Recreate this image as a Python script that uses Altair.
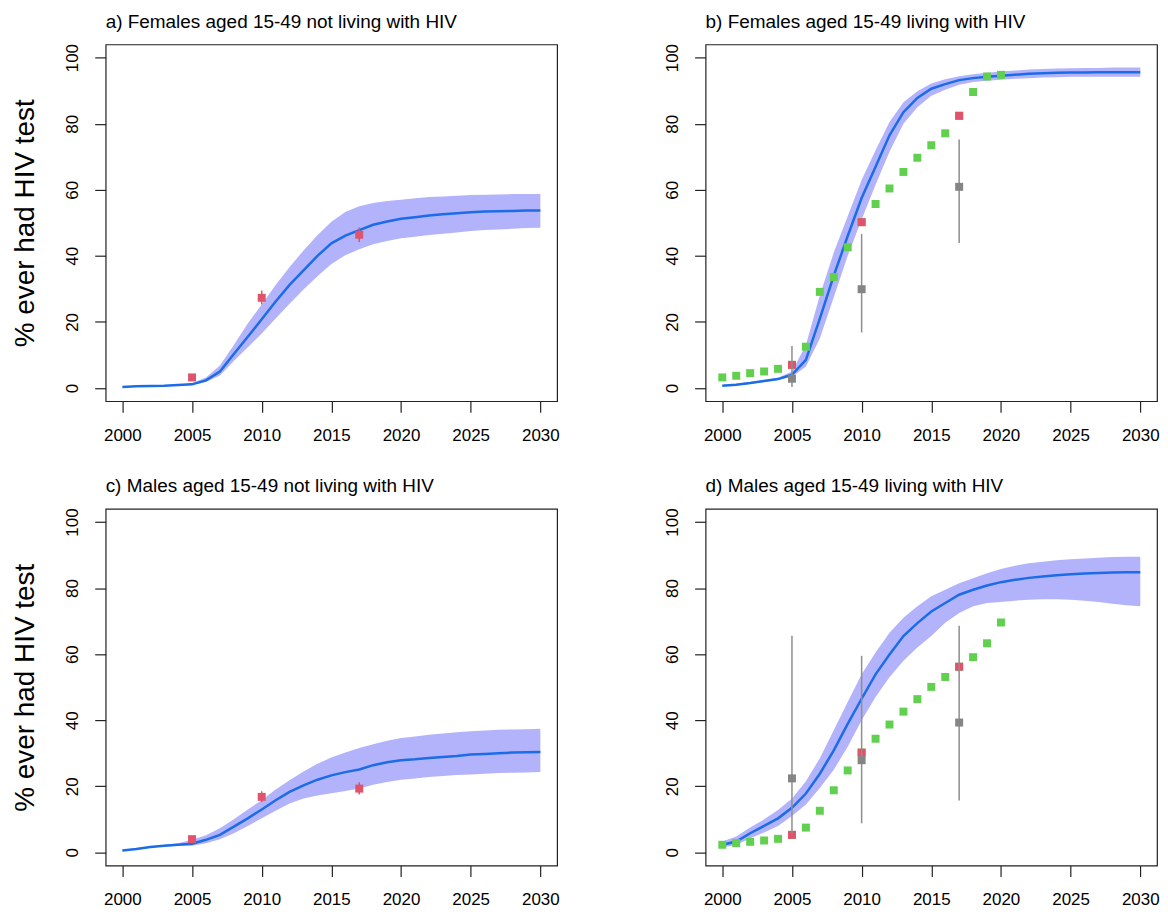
import altair as alt
import pandas as pd

FONT = "Liberation Sans"
BLUE = "#1c6ce8"
BAND = "#b3b3fb"
RED = "#df536b"
GREEN = "#61d04f"
GREY = "#858585"
GREY_LINE = "#8e8e8e"

YEARS = list(range(2000, 2031))
SURVEY_YEARS = [2005, 2010, 2017]
PROG_YEARS = list(range(2000, 2021))

# a) Females not living with HIV
A_MID = [0.3, 0.5, 0.6, 0.7, 0.9, 1.1, 2.3, 5.0, 10.3, 15.5, 20.8, 26.2, 31.2, 35.6, 40.0, 43.8,
         46.1, 47.8, 49.4, 50.4, 51.2, 51.7, 52.2, 52.6, 52.9, 53.2, 53.4, 53.5, 53.6, 53.7, 53.7]
A_UP = [0.4, 0.6, 0.7, 0.8, 1.0, 1.5, 3.2, 6.8, 13.0, 19.5, 25.3, 31.2, 36.6, 41.6, 46.2, 50.3,
        53.3, 55.0, 56.0, 56.6, 57.0, 57.4, 57.8, 58.0, 58.2, 58.4, 58.5, 58.6, 58.7, 58.7, 58.7]
A_LO = [0.2, 0.4, 0.5, 0.6, 0.8, 0.9, 1.8, 3.8, 8.2, 12.3, 16.5, 21.0, 25.5, 29.8, 33.8, 37.5,
        40.2, 42.0, 43.5, 44.5, 45.3, 45.8, 46.3, 46.7, 47.1, 47.5, 47.8, 48.0, 48.2, 48.4, 48.5]
A_RED = [3.2, 27.3, 46.4]
A_RED_LO = [2.6, 25.3, 44.2]
A_RED_HI = [3.9, 29.5, 48.6]

# b) Females living with HIV
B_MID = [0.7, 1.0, 1.5, 2.1, 2.7, 4.0, 8.5, 21.0, 34.0, 46.0, 57.5, 67.0, 76.5, 83.5, 87.8, 90.6,
         92.0, 93.2, 93.8, 94.2, 94.5, 94.8, 95.1, 95.3, 95.4, 95.5, 95.5, 95.6, 95.6, 95.6, 95.6]
B_UP = [1.0, 1.3, 1.8, 2.4, 3.1, 5.0, 13.0, 28.0, 41.0, 52.0, 63.0, 72.0, 80.5, 86.5, 89.8, 92.2,
        93.5, 94.4, 95.0, 95.4, 95.8, 96.1, 96.4, 96.6, 96.7, 96.8, 96.9, 96.9, 97.0, 97.0, 97.0]
B_LO = [0.5, 0.8, 1.2, 1.8, 2.4, 3.3, 6.5, 15.0, 27.5, 40.0, 51.0, 61.5, 71.5, 80.0, 85.0, 88.5,
        90.3, 91.8, 92.6, 93.0, 93.3, 93.6, 93.8, 94.0, 94.1, 94.2, 94.2, 94.2, 94.2, 94.2, 94.2]
B_GREEN = [3.2, 3.7, 4.5, 5.0, 5.8, 7.0, 12.5, 29.1, 33.6, 42.6, 50.2, 55.7, 60.4, 65.4, 69.7,
           73.5, 77.1, 82.4, 89.6, 94.3, 94.8]
B_RED = [7.0, 50.2, 82.4]
B_GREY = [2.8, 29.9, 60.9]
B_GREY_LO = [0.3, 16.8, 43.9]
B_GREY_HI = [12.7, 46.6, 75.2]

# c) Males not living with HIV
C_MID = [0.6, 1.0, 1.6, 2.0, 2.3, 2.6, 3.8, 5.3, 7.8, 10.3, 13.0, 15.8, 18.3, 20.3, 22.0, 23.3,
         24.3, 25.1, 26.4, 27.3, 27.9, 28.2, 28.6, 28.9, 29.2, 29.6, 29.8, 30.0, 30.2, 30.3, 30.4]
C_UP = [0.8, 1.2, 1.8, 2.3, 2.8, 3.8, 5.2, 7.3, 10.0, 13.0, 15.8, 19.0, 21.8, 24.5, 26.8, 28.7,
        30.2, 31.6, 32.7, 33.8, 34.6, 35.1, 35.6, 36.0, 36.4, 36.7, 36.9, 37.1, 37.2, 37.3, 37.4]
C_LO = [0.5, 0.8, 1.4, 1.8, 2.0, 2.0, 2.8, 4.0, 5.8, 8.0, 10.3, 12.6, 14.8, 16.3, 17.2, 17.9,
        18.6, 19.3, 20.5, 21.3, 22.0, 22.4, 22.8, 23.1, 23.4, 23.6, 23.8, 24.0, 24.1, 24.2, 24.3]
C_RED = [4.0, 16.8, 19.3]
C_RED_LO = [3.3, 15.2, 17.5]
C_RED_HI = [4.8, 18.5, 21.2]

# d) Males living with HIV
D_MID = [2.3, 3.3, 5.8, 8.0, 10.3, 13.5, 17.8, 23.8, 30.9, 38.9, 46.5, 53.9, 59.9, 65.5, 69.4, 72.9,
         75.5, 78.0, 79.5, 80.8, 81.8, 82.5, 83.1, 83.5, 83.9, 84.2, 84.4, 84.6, 84.7, 84.8, 84.8]
D_UP = [3.3, 4.8, 7.5, 10.0, 12.8, 16.3, 21.5, 28.5, 37.0, 45.5, 53.9, 60.5, 66.5, 71.0, 74.5, 77.5,
        79.5, 81.5, 83.0, 84.5, 85.8, 86.8, 87.5, 88.0, 88.4, 88.7, 89.0, 89.2, 89.4, 89.5, 89.5]
D_LO = [1.5, 2.2, 4.3, 6.0, 8.0, 11.0, 14.5, 19.5, 25.0, 32.0, 40.0, 47.0, 53.0, 58.0, 62.0, 65.5,
        69.5, 72.5, 74.5, 75.5, 75.8, 76.2, 76.5, 76.6, 76.6, 76.5, 76.2, 75.8, 75.3, 74.8, 74.5]
D_GREEN = [2.3, 2.8, 3.2, 3.6, 4.1, 5.3, 7.5, 12.6, 18.8, 24.8, 30.2, 34.4, 38.7, 42.6, 46.4,
           50.1, 53.1, 56.2, 59.1, 63.3, 69.6]
D_RED = [5.3, 30.2, 56.2]
D_GREY = [22.4, 27.9, 39.3]
D_GREY_LO = [5.5, 8.8, 15.7]
D_GREY_HI = [65.6, 59.5, 68.6]

X_TICKS = [2000, 2005, 2010, 2015, 2020, 2025, 2030]
Y_TICKS = [0, 20, 40, 60, 80, 100]

xs = alt.Scale(domain=[1998.8, 2031.2], nice=False, zero=False)
ys = alt.Scale(domain=[-4, 104], nice=False, zero=False)
xaxis = alt.Axis(values=X_TICKS, format="d", title=None, labelPadding=15)


def yaxis(show_title):
    if show_title:
        return alt.Axis(values=Y_TICKS, labelAngle=-90, labelAlign="center", labelBaseline="bottom",
                        labelPadding=13, title="% ever had HIV test", titlePadding=24)
    return alt.Axis(values=Y_TICKS, labelAngle=-90, labelAlign="center", labelBaseline="bottom",
                    labelPadding=13, title=None)


def panel(title, mid, up, lo, red, red_lo=None, red_hi=None, green=None,
          grey=None, grey_lo=None, grey_hi=None, ytitle=False):
    ya = yaxis(ytitle)
    X = alt.X("year:Q", scale=xs, axis=xaxis)
    model = pd.DataFrame({"year": YEARS, "mid": mid, "up": up, "lo": lo})
    layers = [
        alt.Chart(model).mark_area(color=BAND, opacity=1).encode(
            x=X, y=alt.Y("lo:Q", scale=ys, axis=ya), y2="up:Q"),
        alt.Chart(model).mark_line(color=BLUE, strokeWidth=2.5).encode(
            x=X, y=alt.Y("mid:Q", scale=ys, axis=ya)),
    ]
    if green is not None:
        gdf = pd.DataFrame({"year": PROG_YEARS, "v": green})
        layers.append(alt.Chart(gdf).mark_square(color=GREEN, size=64, opacity=1).encode(
            x=X, y=alt.Y("v:Q", scale=ys, axis=ya)))
    rdf = pd.DataFrame({"year": SURVEY_YEARS, "v": red})
    if red_lo is not None:
        rdf["lo"] = red_lo
        rdf["hi"] = red_hi
        layers.append(alt.Chart(rdf).mark_rule(color=RED, strokeWidth=1.5).encode(
            x=X, y=alt.Y("lo:Q", scale=ys, axis=ya), y2="hi:Q"))
    layers.append(alt.Chart(rdf).mark_square(color=RED, size=64, opacity=1).encode(
        x=X, y=alt.Y("v:Q", scale=ys, axis=ya)))
    if grey is not None:
        gr = pd.DataFrame({"year": SURVEY_YEARS, "v": grey, "lo": grey_lo, "hi": grey_hi})
        layers.append(alt.Chart(gr).mark_rule(color=GREY_LINE, strokeWidth=1.5).encode(
            x=X, y=alt.Y("lo:Q", scale=ys, axis=ya), y2="hi:Q"))
        layers.append(alt.Chart(gr).mark_square(color=GREY, size=64, opacity=1).encode(
            x=X, y=alt.Y("v:Q", scale=ys, axis=ya)))
    return alt.layer(*layers).properties(
        width=453, height=358,
        title=alt.TitleParams(title, anchor="start", frame="group", fontSize=19,
                              fontWeight="normal", font=FONT, color="black", offset=-3,
                              baseline="alphabetic"),
    )


pa = panel("a) Females aged 15-49 not living with HIV", A_MID, A_UP, A_LO, A_RED,
           A_RED_LO, A_RED_HI, ytitle=True)
pb = panel("b) Females aged 15-49 living with HIV", B_MID, B_UP, B_LO, B_RED,
           green=B_GREEN, grey=B_GREY, grey_lo=B_GREY_LO, grey_hi=B_GREY_HI)
pc = panel("c) Males aged 15-49 not living with HIV", C_MID, C_UP, C_LO, C_RED,
           C_RED_LO, C_RED_HI, ytitle=True)
pd_ = panel("d) Males aged 15-49 living with HIV", D_MID, D_UP, D_LO, D_RED,
            green=D_GREEN, grey=D_GREY, grey_lo=D_GREY_LO, grey_hi=D_GREY_HI)

chart = alt.concat(pa, pb, pc, pd_, columns=2, spacing={"row": 108, "column": 149},
                   bounds="flush").configure_view(
    stroke="#222222", strokeWidth=1.2
).configure_axis(
    domain=False, grid=False, tickColor="#222222", tickSize=11, tickWidth=1.2,
    labelFont=FONT, labelFontSize=17, labelColor="black",
    titleFont=FONT, titleFontSize=28, titleFontWeight="normal", titleColor="black",
).properties(background="white", padding={"left": 3, "top": 2, "right": 0, "bottom": 0})

chart.save("out.html", embed_options={"renderer": "svg", "actions": False})
